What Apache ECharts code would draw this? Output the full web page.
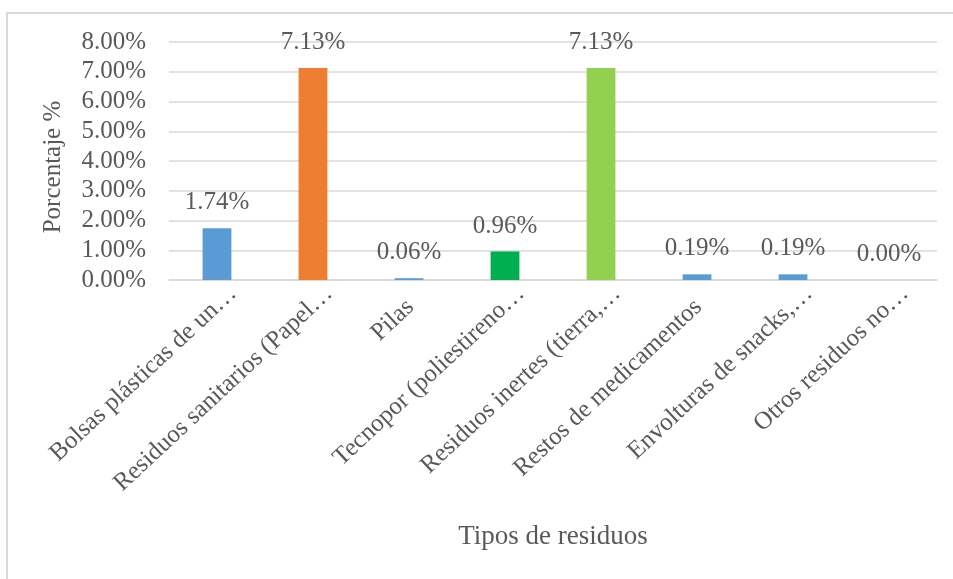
<!DOCTYPE html>
<html>
<head>
<meta charset="utf-8">
<script src="https://cdn.jsdelivr.net/npm/echarts@6/dist/echarts.min.js"></script>
<style>
  html, body { margin: 0; padding: 0; background: #fff; }
  #chart { width: 953px; height: 579px; }
</style>
</head>
<body>
<div id="chart"></div>
<script>
// Waste types and their share of the total (percent)
const categories = [
  'Bolsas plásticas de un…',
  'Residuos sanitarios (Papel…',
  'Pilas',
  'Tecnopor (poliestireno…',
  'Residuos inertes (tierra,…',
  'Restos de medicamentos',
  'Envolturas de snacks,…',
  'Otros residuos no…'
];
const percentages = [1.74, 7.13, 0.06, 0.96, 7.13, 0.19, 0.19, 0.00];
const barColors = ['#5B9BD5', '#ED7D31', '#5B9BD5', '#00B050', '#92D050', '#5B9BD5', '#5B9BD5', '#5B9BD5'];
const yTicks = { min: 0, max: 8, step: 1 };

const FONT = "'Liberation Serif', 'Times New Roman', serif";
const TEXT = '#595959';
const LINE = '#D9D9D9';

// Shortened names keep a trailing gap after the ellipsis; full names sit closer to the tick.
const categoryItems = categories.map(name => ({
  value: name,
  textStyle: {
    padding: name.endsWith('…') ? [0, -22, 0, 0] : [16, -2, 0, 0]
  }
}));

const chart = echarts.init(document.getElementById('chart'), null, { renderer: 'canvas' });

chart.setOption({
  backgroundColor: '#ffffff',
  animation: false,
  textStyle: { fontFamily: FONT },
  graphic: [{
    type: 'polyline',
    silent: true,
    shape: { points: [[7, 579], [7, 13], [953, 13]] },
    style: { stroke: LINE, lineWidth: 2, fill: null }
  }],
  grid: { left: 169, right: 16, top: 42, bottom: 299, containLabel: false },
  xAxis: {
    type: 'category',
    data: categoryItems,
    name: 'Tipos de residuos',
    nameLocation: 'middle',
    nameGap: 243,
    nameTextStyle: { fontFamily: FONT, fontSize: 27, color: TEXT },
    axisLine: { lineStyle: { color: LINE, width: 1.5 } },
    axisTick: { show: false },
    axisLabel: {
      interval: 0,
      rotate: 43,
      margin: 25,
      fontFamily: FONT,
      fontSize: 25,
      color: TEXT
    }
  },
  yAxis: {
    type: 'value',
    min: yTicks.min,
    max: yTicks.max,
    interval: yTicks.step,
    name: 'Porcentaje %',
    nameLocation: 'middle',
    nameGap: 103,
    nameTextStyle: { fontFamily: FONT, fontSize: 25, color: TEXT, padding: [0, 12, 0, 0] },
    axisLine: { show: false },
    axisTick: { show: false },
    splitLine: { lineStyle: { color: LINE, width: 1.5 } },
    axisLabel: {
      margin: 23,
      fontFamily: FONT,
      fontSize: 25,
      color: TEXT,
      formatter: v => v.toFixed(2) + '%'
    }
  },
  series: [{
    type: 'bar',
    barWidth: '30%',
    data: percentages.map((v, i) => ({ value: v, itemStyle: { color: barColors[i] } })),
    label: {
      show: true,
      position: 'top',
      distance: 13,
      fontFamily: FONT,
      fontSize: 25,
      color: TEXT,
      formatter: p => p.value.toFixed(2) + '%'
    }
  }]
});
</script>
</body>
</html>
